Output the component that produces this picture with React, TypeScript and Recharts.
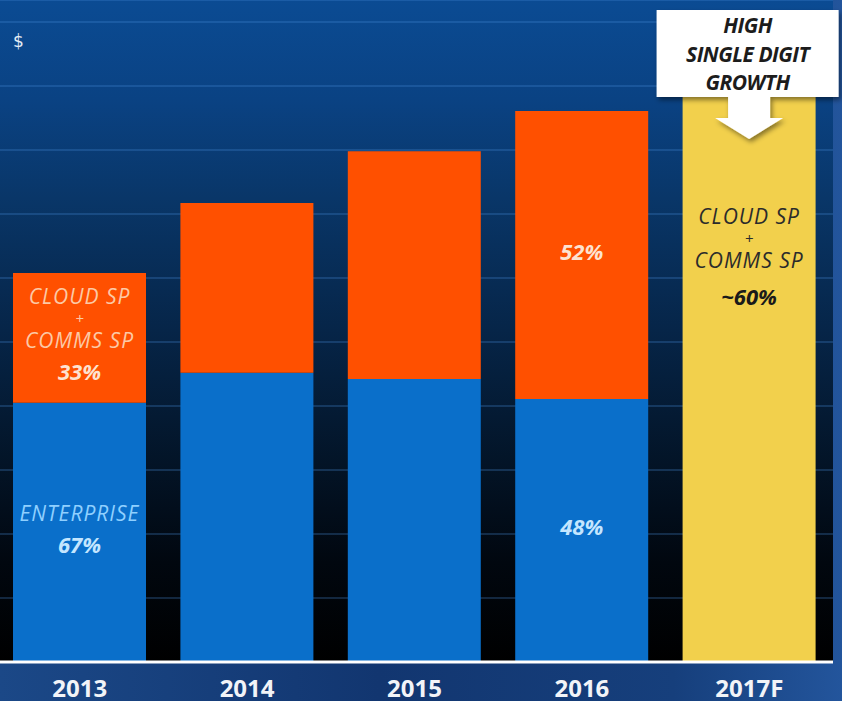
import React from "react";
import { BarChart, Bar, XAxis, YAxis, CartesianGrid, LabelList } from "recharts";

const years = ["2013", "2014", "2015", "2016", "2017F"];
const enterprise = [4.05, 4.52, 4.42, 4.11, 0];
const cloudSp = [2.03, 2.65, 3.56, 4.5, 0];
const forecast = [0, 0, 0, 0, 9.3];

const enterpriseLabels = ["ENTERPRISE|67%", "", "", "48%", ""];
const cloudLabels = ["CLOUD SP|+|COMMS SP|33%", "", "", "52%", ""];
const forecastLabels = ["", "", "", "", "CLOUD SP|+|COMMS SP|~60%"];
const calloutLines = ["HIGH", "SINGLE DIGIT", "GROWTH"];

const yTicks = [0, 1, 2, 3, 4, 5, 6, 7, 8, 9, 10];

const data = years.map((year, i) => ({
  year,
  enterprise: enterprise[i],
  cloudSp: cloudSp[i],
  forecast: forecast[i],
  entLabel: enterpriseLabels[i],
  cloudLabel: cloudLabels[i],
  fcLabel: forecastLabels[i],
}));

const FONT = "'Open Sans', sans-serif";

function textLines(lines: string[], cx: number, startY: number, wordColor: string, pctColor: string, wordGap: number, pctGap: number) {
  let y = startY;
  return lines.map((line, i) => {
    const isPct = line.includes("%");
    const isPlus = line === "+";
    if (i > 0) y += isPct ? pctGap : wordGap;
    return (
      <text
        key={i}
        x={cx}
        y={y}
        textAnchor="middle"
        dominantBaseline="central"
        fontFamily={FONT}
        fontStyle="italic"
        fontWeight={isPct ? 700 : 400}
        fontSize={isPct ? 22 : isPlus ? 15 : 21}
        letterSpacing={isPct || isPlus ? 0 : 1}
        fill={isPct ? pctColor : wordColor}
      >
        {line}
      </text>
    );
  });
}

function blockHeight(lines: string[], wordGap: number, pctGap: number) {
  let h = 0;
  lines.forEach((l, i) => {
    if (i > 0) h += l.includes("%") ? pctGap : wordGap;
  });
  return h;
}

const makeSegmentLabel = (wordColor: string, pctColor: string) => (props: any) => {
  const vb = props.viewBox || props;
  const x = props.x ?? vb.x;
  const y = props.y ?? vb.y;
  const width = props.width ?? vb.width;
  const height = props.height ?? vb.height;
  const value = props.value;
  if (!value) return null;
  const lines = String(value).split("|");
  const wordGap = 22;
  const pctGap = 31;
  const h = blockHeight(lines, wordGap, pctGap);
  const start = y + height / 2 - 4 - h / 2;
  return <g>{textLines(lines, x + width / 2, start, wordColor, pctColor, wordGap, pctGap)}</g>;
};

const renderForecastLabel = (props: any) => {
  const vb = props.viewBox || props;
  const x = props.x ?? vb.x;
  const y = props.y ?? vb.y;
  const width = props.width ?? vb.width;
  const value = props.value;
  if (!value) return null;
  const lines = String(value).split("|");
  const cx = x + width / 2;
  const boxX = x - 26;
  const boxW = width + 49;
  return (
    <g>
      {textLines(lines, cx, y + 149, "#2b2b2b", "#1a1a1a", 22, 36)}
      <defs>
        <filter id="calloutShadow" x="-10%" y="-10%" width="130%" height="140%">
          <feDropShadow dx="2" dy="3" stdDeviation="2.5" floodColor="#000" floodOpacity="0.45" />
        </filter>
      </defs>
      <g filter="url(#calloutShadow)">
        <rect x={boxX} y={10} width={boxW} height={87} fill="#ffffff" />
        <polygon
          points={`${cx - 21},96 ${cx + 21},96 ${cx + 21},118 ${cx + 34},118 ${cx},139 ${cx - 34},118 ${cx - 21},118`}
          fill="#ffffff"
        />
      </g>
      {calloutLines.map((l, i) => (
        <text
          key={l}
          x={boxX + boxW / 2}
          y={25 + i * 28.5}
          textAnchor="middle"
          dominantBaseline="central"
          fontFamily={FONT}
          fontStyle="italic"
          fontWeight={700}
          fontSize={21}
          fill="#1c1c1c"
          letterSpacing={-0.5}
        >
          {l}
        </text>
      ))}
    </g>
  );
};

const renderTick = (props: any) => {
  const { x, payload } = props;
  return (
    <text x={x} y={697} textAnchor="middle" fontFamily={FONT} fontWeight={700} fontSize={24} fill="#f2f4f8">
      {payload.value}
    </text>
  );
};

export default function App() {
  return (
    <div
      style={{
        position: "absolute",
        left: 0,
        top: 0,
        width: 842,
        height: 701,
        overflow: "hidden",
        background: "linear-gradient(to right, #1b4887 0%, #123670 45%, #163f7c 80%, #23559c 100%)",
      }}
    >
      {/* plot background */}
      <div
        style={{
          position: "absolute",
          left: 0,
          top: 0,
          width: 833,
          height: 662,
          background:
            "linear-gradient(to bottom, #0b4b93 0%, #0a4283 15%, #093668 30%, #062548 50%, #031427 70%, #01070f 85%, #000000 100%)",
        }}
      />
      <div
        style={{
          position: "absolute",
          left: 13,
          top: 31,
          color: "#e4ecf6",
          fontFamily: "'DejaVu Sans', sans-serif",
          fontSize: 17,
        }}
      >
        $
      </div>
      <div style={{ position: "absolute", left: 0, top: 0 }}>
        <BarChart
          width={842}
          height={701}
          data={data}
          margin={{ top: 0, right: 9, left: -4, bottom: 0 }}
          barSize={133}
        >
          <CartesianGrid
            vertical={false}
            stroke="#4a90d9"
            strokeOpacity={0.35}
            strokeWidth={1.5}
          />
          <YAxis hide domain={[0, 662 / 64]} ticks={yTicks} allowDataOverflow />
          <XAxis
            dataKey="year"
            height={39}
            axisLine={{ stroke: "#ffffff", strokeWidth: 3 }}
            tickLine={false}
            tick={renderTick}
            interval={0}
          />
          <Bar dataKey="enterprise" stackId="a" fill="#0a6fca" isAnimationActive={false}>
            <LabelList dataKey="entLabel" content={makeSegmentLabel("#8fd0ff", "#c4e6ff")} />
          </Bar>
          <Bar dataKey="cloudSp" stackId="a" fill="#ff5000" isAnimationActive={false}>
            <LabelList dataKey="cloudLabel" content={makeSegmentLabel("#fcc9a6", "#fde2d0")} />
          </Bar>
          <Bar dataKey="forecast" stackId="a" fill="#f2d04c" isAnimationActive={false}>
            <LabelList dataKey="fcLabel" content={renderForecastLabel} />
          </Bar>
        </BarChart>
      </div>
    </div>
  );
}
